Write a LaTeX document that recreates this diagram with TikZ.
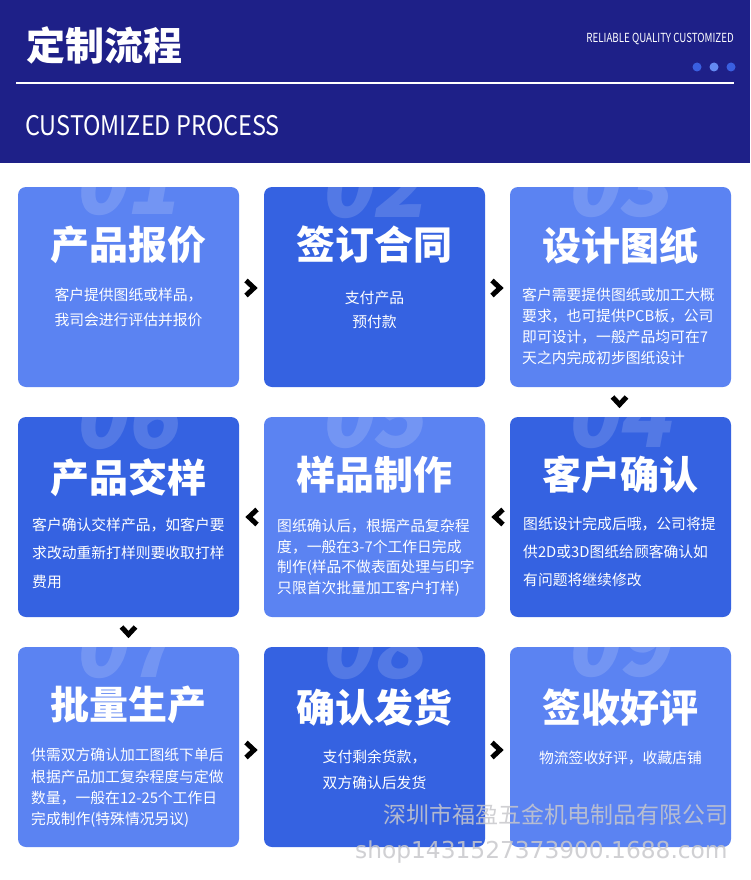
\documentclass[tikz,border=0pt]{standalone}
\usepackage{fontspec}
\setmainfont{Noto Sans CJK SC}
\newfontfamily\numfont{Noto Sans CJK SC}[FakeSlant=0.18]
\newfontfamily\condfont{Noto Sans CJK SC}[FakeStretch=0.78]
\newfontfamily\subfont{Noto Sans CJK SC}[FakeStretch=0.87]
\newfontfamily\wmfont{DejaVu Sans}
\usetikzlibrary{calc}
\definecolor{headbg}{RGB}{30,32,136}
\definecolor{lightcard}{RGB}{91,131,242}
\definecolor{darkcard}{RGB}{53,98,225}
\definecolor{dotdark}{RGB}{58,95,224}
\definecolor{dotlight}{RGB}{100,138,242}
\definecolor{wmgray}{RGB}{200,200,204}
\tikzset{
  cardbox/.style={minimum width=221pt, minimum height=200pt, inner sep=0pt, rounded corners=8pt, draw=none},
  bignum/.style={anchor=base, inner sep=0pt, text depth=0pt, text=white, text opacity=0.15, font=\numfont\bfseries\fontsize{86}{86}\selectfont},
  ctitle/.style={inner sep=0pt, text=white, font=\bfseries\fontsize{39}{39}\selectfont},
  cbody/.style={inner sep=0pt, text=white, font=\fontsize{14.8}{16}\selectfont},
  chev/.style={line width=5pt, miter limit=10, line join=miter, draw=black},
  chevright/.pic={\draw[chev] (-5.5,-7.5) -- (2.5,0) -- (-5.5,7.5);},
  chevleft/.pic={\draw[chev] (5.5,-7.5) -- (-2.5,0) -- (5.5,7.5);},
  chevdown/.pic={\draw[chev] (-7,-4) -- (0,3.5) -- (7,-4);},
  wmtext/.style={inner sep=0pt, text=wmgray, text opacity=0.85}
}
\newcommand\mkcard[6]{%
  \node[cardbox, fill=#4] (#1) at (#2,#3) {};
  \begin{scope}
    \clip[rounded corners=8pt] (#1.north west) rectangle (#1.south east);
    \node[bignum] (#1n) at ($(#1.north)+(-3,#6)$) {#5};
  \end{scope}}
\begin{document}
\begin{tikzpicture}[x=1pt,y=-1pt]
\useasboundingbox (0,0) rectangle (750,880);
\fill[white] (0,0) rectangle (750,880);
% header
\fill[headbg] (0,0) rectangle (750,163);
\node[anchor=west, inner sep=0pt, text=white, font=\bfseries\fontsize{39}{39}\selectfont] (htitle) at (26,45) {定制流程};
\node[anchor=east, inner sep=0pt, text=white, font=\condfont\fontsize{12.5}{12.5}\selectfont] (htag) at (734,39) {RELIABLE QUALITY CUSTOMIZED};
\fill[dotdark] (697,67) circle (4.5);
\fill[dotlight] (714,67) circle (4.5);
\fill[dotdark] (731,67) circle (4.5);
\draw[white, line width=2pt] (16,83) -- (734,83);
\node[anchor=west, inner sep=0pt, text=white, font=\subfont\fontsize{27}{27}\selectfont] (hsub) at (25,125.5) {CUSTOMIZED PROCESS};
% cards
\mkcard{c1}{128.5}{287}{lightcard}{01}{28}
\mkcard{c2}{374.5}{287}{darkcard}{02}{31}
\mkcard{c3}{620.5}{287}{lightcard}{03}{30}
\mkcard{c6}{128.5}{517}{darkcard}{06}{32}
\mkcard{c5}{374.5}{517}{lightcard}{05}{31}
\mkcard{c4}{620.5}{517}{darkcard}{04}{31}
\mkcard{c7}{128.5}{747}{lightcard}{07}{31}
\mkcard{c8}{374.5}{747}{darkcard}{08}{32}
\mkcard{c9}{620.5}{747}{lightcard}{09}{30}
% card 1
\node[ctitle] (c1t) at (128.5,245) {产品报价};
\node[cbody] (c1a) at (128.5,295) {客户提供图纸或样品，};
\node[cbody] (c1b) at (128.5,320) {我司会进行评估并报价};
% card 2
\node[ctitle] (c2t) at (374.5,245) {签订合同};
\node[cbody] (c2a) at (374.5,298) {支付产品};
\node[cbody] (c2b) at (374.5,322) {预付款};
% card 3
\node[ctitle] (c3t) at (620.5,246) {设计图纸};
\node[cbody, anchor=west] (c3a) at (522,295) {客户需要提供图纸或加工大概};
\node[cbody, anchor=west] (c3b) at (522,316) {要求，也可提供PCB板，公司};
\node[cbody, anchor=west] (c3c) at (522,337) {即可设计，一般产品均可在7};
\node[cbody, anchor=west] (c3d) at (522,358) {天之内完成初步图纸设计};
% card 4
\node[ctitle] (c4t) at (620.5,475) {客户确认};
\node[cbody, anchor=west] (c4a) at (523,524) {图纸设计完成后哦，公司将提};
\node[cbody, anchor=west] (c4b) at (523,552) {供2D或3D图纸给顾客确认如};
\node[cbody, anchor=west] (c4c) at (523,580) {有问题将继续修改};
% card 5
\node[ctitle] (c5t) at (374.5,475) {样品制作};
\node[cbody, anchor=west] (c5a) at (277,526) {图纸确认后，根据产品复杂程};
\node[cbody, anchor=west] (c5b) at (277,547) {度，一般在3-7个工作日完成};
\node[cbody, anchor=west] (c5c) at (277,568) {制作(样品不做表面处理与印字};
\node[cbody, anchor=west] (c5d) at (277,589) {只限首次批量加工客户打样)};
% card 6
\node[ctitle] (c6t) at (128.5,478) {产品交样};
\node[cbody, anchor=west] (c6a) at (32,525) {客户确认交样产品，如客户要};
\node[cbody, anchor=west] (c6b) at (32,553) {求改动重新打样则要收取打样};
\node[cbody, anchor=west] (c6c) at (32,582) {费用};
% card 7
\node[ctitle] (c7t) at (128.5,705) {批量生产};
\node[cbody, anchor=west] (c7a) at (31,755) {供需双方确认加工图纸下单后};
\node[cbody, anchor=west] (c7b) at (31,777) {根据产品加工复杂程度与定做};
\node[cbody, anchor=west] (c7c) at (31,798) {数量，一般在12-25个工作日};
\node[cbody, anchor=west] (c7d) at (31,820) {完成制作(特殊情况另议)};
% card 8
\node[ctitle] (c8t) at (374.5,707) {确认发货};
\node[cbody] (c8a) at (374.5,757) {支付剩余货款，};
\node[cbody] (c8b) at (374.5,783) {双方确认后发货};
% card 9
\node[ctitle] (c9t) at (620.5,708) {签收好评};
\node[cbody] (c9a) at (620.5,758) {物流签收好评，收藏店铺};
% chevrons
\coordinate (m12) at ($(c1.east)!0.5!(c2.west)+(0,1)$);
\coordinate (m23) at ($(c2.east)!0.5!(c3.west)+(0,1)$);
\coordinate (m34) at ($(c3.south)!0.5!(c4.north)+(-1,-1)$);
\coordinate (m45) at ($(c5.east)!0.5!(c4.west)$);
\coordinate (m56) at ($(c6.east)!0.5!(c5.west)$);
\coordinate (m67) at ($(c6.south)!0.5!(c7.north)+(0,-1)$);
\coordinate (m78) at ($(c7.east)!0.5!(c8.west)+(0,3)$);
\coordinate (m89) at ($(c8.east)!0.5!(c9.west)+(0,3)$);
\pic at (m12) {chevright};
\pic at (m23) {chevright};
\pic at (m34) {chevdown};
\pic at (m45) {chevleft};
\pic at (m56) {chevleft};
\pic at (m67) {chevdown};
\pic at (m78) {chevright};
\pic at (m89) {chevright};
% watermark
\node[wmtext, anchor=west, font=\fontsize{23}{23}\selectfont] (wm1) at (383,815) {深圳市福盈五金机电制品有限公司};
\node[wmtext, anchor=base west, font=\wmfont\fontsize{23.3}{23.3}\selectfont] (wm2) at (355,858.5) {shop1431527373900.1688.com};
\end{tikzpicture}
\end{document}
